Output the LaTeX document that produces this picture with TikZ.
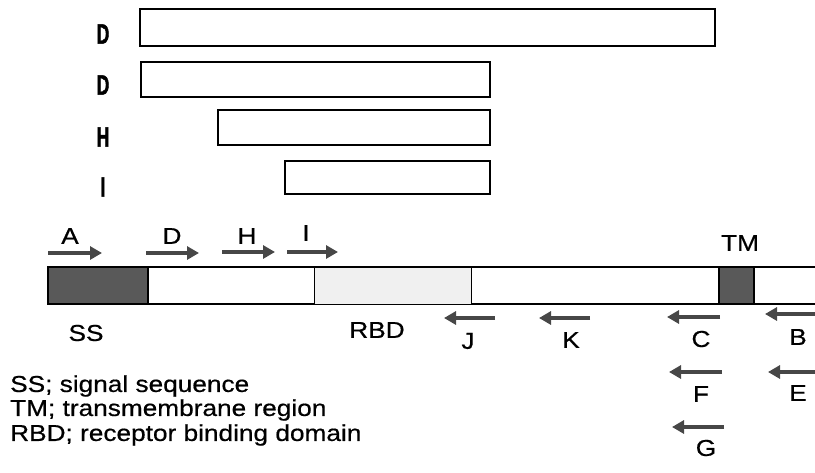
\documentclass[tikz,border=0pt]{standalone}
\usepackage{fontspec}
\setmainfont{Liberation Sans}
\newfontfamily\widefont[FakeStretch=1.14, FakeBold=0.6]{Liberation Sans}
\newfontfamily\condfont[FakeStretch=0.62, FakeBold=1.5]{Liberation Sans Bold}
\usetikzlibrary{arrows.meta}
\tikzset{
  bar/.style={draw=black, line width=1.3pt, fill=white},
  lbl/.style={font=\widefont\fontsize{23}{26}\selectfont, inner sep=0pt},
  toplbl/.style={font=\condfont\fontsize{28}{30}\selectfont, inner sep=0pt},
  primer/.style={line width=4.5pt, draw=black!72, -{Triangle[length=12pt,width=13pt]}},
  dark/.style={fill=black!65, draw=black, line width=1.3pt},
}
\begin{document}
\begin{tikzpicture}[x=1pt,y=-1pt]
\useasboundingbox (0,0) rectangle (815,472);
% top constructs
\node[toplbl] (l1) at (103,34) {D};
\node[toplbl] (l2) at (103,85) {D};
\node[toplbl] (l3) at (103,137) {H};
\node[toplbl] (l4) at (103,187) {I};
\draw[bar] (140,9) rectangle (715,46);
\draw[bar] (141,62) rectangle (490,97);
\draw[bar] (218,110) rectangle (490,145);
\draw[bar] (285,161) rectangle (490,194);
% forward primers
\coordinate (a1) at (48,253); \coordinate (a2) at (102,253);
\coordinate (d1) at (146,253); \coordinate (d2) at (199,253);
\coordinate (h1) at (222,252); \coordinate (h2) at (275,252);
\coordinate (i1) at (287,252); \coordinate (i2) at (338,252);
\draw[primer] (a1) -- (a2);
\draw[primer] (d1) -- (d2);
\draw[primer] (h1) -- (h2);
\draw[primer] (i1) -- (i2);
\node[lbl] (A) at (70,236) {A};
\node[lbl] (D) at (172,236) {D};
\node[lbl] (H) at (247,236) {H};
\node[lbl] (I) at (306,233) {I};
% main bar
\draw[line width=1.3pt, fill=white] (815,267) -- (48,267) -- (48,304) -- (815,304);
\draw[dark] (48,267) rectangle (148,304);
\draw[line width=1pt, fill=black!6] (314,267) rectangle (471,304);
\draw[dark] (719,267) rectangle (754,304);
\node[lbl] (SS) at (86,333) {SS};
\node[lbl] (RBD) at (377,330) {RBD};
\node[lbl] (TM) at (740,243) {TM};
% reverse primers
\coordinate (j1) at (495,318); \coordinate (j2) at (444,318);
\coordinate (k1) at (590,318); \coordinate (k2) at (539,318);
\coordinate (c1) at (720,317); \coordinate (c2) at (667,317);
\coordinate (b1) at (815,314); \coordinate (b2) at (765,314);
\coordinate (f1) at (722,372); \coordinate (f2) at (669,372);
\coordinate (e1) at (815,372); \coordinate (e2) at (768,372);
\coordinate (g1) at (724,427); \coordinate (g2) at (672,427);
\draw[primer] (j1) -- (j2);
\draw[primer] (k1) -- (k2);
\draw[primer] (c1) -- (c2);
\draw[primer] (b1) -- (b2);
\draw[primer] (f1) -- (f2);
\draw[primer] (e1) -- (e2);
\draw[primer] (g1) -- (g2);
\node[lbl] (J) at (468,341) {J};
\node[lbl] (K) at (571,340) {K};
\node[lbl] (C) at (701,339) {C};
\node[lbl] (B) at (798,337) {B};
\node[lbl] (F) at (701,394) {F};
\node[lbl] (E) at (798,393) {E};
\node[lbl] (G) at (706,448) {G};
% legend
\node[lbl, anchor=west] (lg1) at (10,386) {SS; signal sequence};
\node[lbl, anchor=west] (lg2) at (10,410) {TM; transmembrane region};
\node[lbl, anchor=west] (lg3) at (10,435) {RBD; receptor binding domain};
\end{tikzpicture}
\end{document}
